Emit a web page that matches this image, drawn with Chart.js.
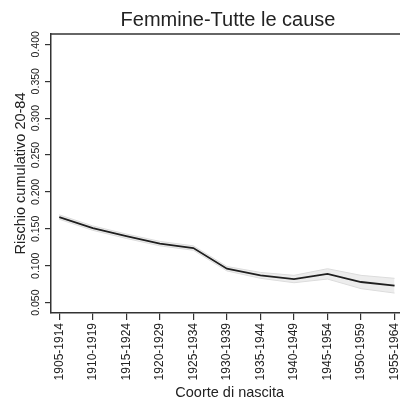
<!DOCTYPE html>
<html>
<head>
<meta charset="utf-8">
<script src="https://cdn.jsdelivr.net/npm/chart.js@4"></script>
<style>
html,body{margin:0;padding:0;background:#fff;overflow:hidden;width:400px;height:402px;}
canvas{display:block;}
</style>
</head>
<body>
<canvas id="c" width="412" height="402" style="width:412px;height:402px"></canvas>
<script>
const titleText = "Femmine-Tutte le cause";
const xTitle = "Coorte di nascita";
const yTitle = "Rischio cumulativo 20-84";
const cohorts = ["1905-1914","1910-1919","1915-1924","1920-1929","1925-1934","1930-1939","1935-1944","1940-1949","1945-1954","1950-1959","1955-1964"];
const risk  = [0.166, 0.151, 0.140, 0.130, 0.124, 0.096, 0.087, 0.082, 0.089, 0.078, 0.073];
const lower = [0.163, 0.148, 0.137, 0.127, 0.121, 0.093, 0.083, 0.077, 0.082, 0.069, 0.063];
const upper = [0.169, 0.154, 0.143, 0.133, 0.127, 0.099, 0.091, 0.087, 0.096, 0.087, 0.083];
const yTicks = [0.05, 0.10, 0.15, 0.20, 0.25, 0.30, 0.35, 0.40];

const pts = arr => arr.map((v, i) => ({x: i + 1, y: v}));
const font = "'Liberation Sans', Arial, sans-serif";
const ink = '#222';

const framePlugin = {
  id: 'frame',
  afterDraw(chart) {
    const {ctx, chartArea} = chart;
    ctx.save();
    ctx.strokeStyle = '#333';
    ctx.lineWidth = 1.5;
    ctx.beginPath();
    ctx.moveTo(chartArea.left - 0.75, chartArea.top);
    ctx.lineTo(chartArea.right, chartArea.top);
    ctx.stroke();
    ctx.fillStyle = ink;
    ctx.font = "20px " + font;
    ctx.textAlign = 'center';
    ctx.textBaseline = 'middle';
    ctx.fillText(titleText, 228, 20);
    ctx.restore();
  }
};

new Chart(document.getElementById('c'), {
  type: 'line',
  data: {
    datasets: [
      {data: pts(lower), borderColor: '#dcdcdc', borderWidth: 1, pointRadius: 0, fill: false, tension: 0},
      {data: pts(upper), borderColor: '#dcdcdc', borderWidth: 1, pointRadius: 0, fill: '-1', backgroundColor: 'rgba(0,0,0,0.07)', tension: 0},
      {data: pts(risk), borderColor: '#222', borderWidth: 1.8, pointRadius: 0, fill: false, tension: 0}
    ]
  },
  options: {
    responsive: false,
    animation: false,
    layout: {padding: {top: 34, left: 0, right: 1, bottom: 0}},
    plugins: {legend: {display: false}, tooltip: {enabled: false}, title: {display: false}},
    scales: {
      x: {
        type: 'linear',
        min: 0.754, max: 11.414,
        afterBuildTicks: s => { s.ticks = cohorts.map((c, i) => ({value: i + 1})); },
        afterFit: s => { s.height = 89; },
        ticks: {
          autoSkip: false, minRotation: 90, maxRotation: 90, padding: 3,
          color: ink, font: {family: font, size: 12},
          callback: v => cohorts[v - 1]
        },
        grid: {display: true, drawOnChartArea: false, drawTicks: true, tickLength: 7, color: '#333', lineWidth: 1.2},
        border: {display: true, color: '#333', width: 1.5},
        title: {display: true, text: xTitle, color: ink, font: {family: font, size: 14.5}, padding: {top: 0, bottom: 0}}
      },
      y: {
        min: 0.036, max: 0.414,
        afterBuildTicks: s => { s.ticks = yTicks.map(v => ({value: v})); },
        afterFit: s => { s.width = 51; },
        ticks: {
          autoSkip: false, minRotation: 90, maxRotation: 90, crossAlign: 'center', padding: -4,
          color: ink, font: {family: font, size: 10.5},
          callback: v => v.toFixed(3)
        },
        grid: {display: true, drawOnChartArea: false, drawTicks: true, tickLength: 6, color: '#333', lineWidth: 1.2},
        border: {display: true, color: '#333', width: 1.5},
        title: {display: true, text: yTitle, color: ink, font: {family: font, size: 14.5}, padding: {top: 12, bottom: 0}}
      }
    }
  },
  plugins: [framePlugin]
});
</script>
</body>
</html>
